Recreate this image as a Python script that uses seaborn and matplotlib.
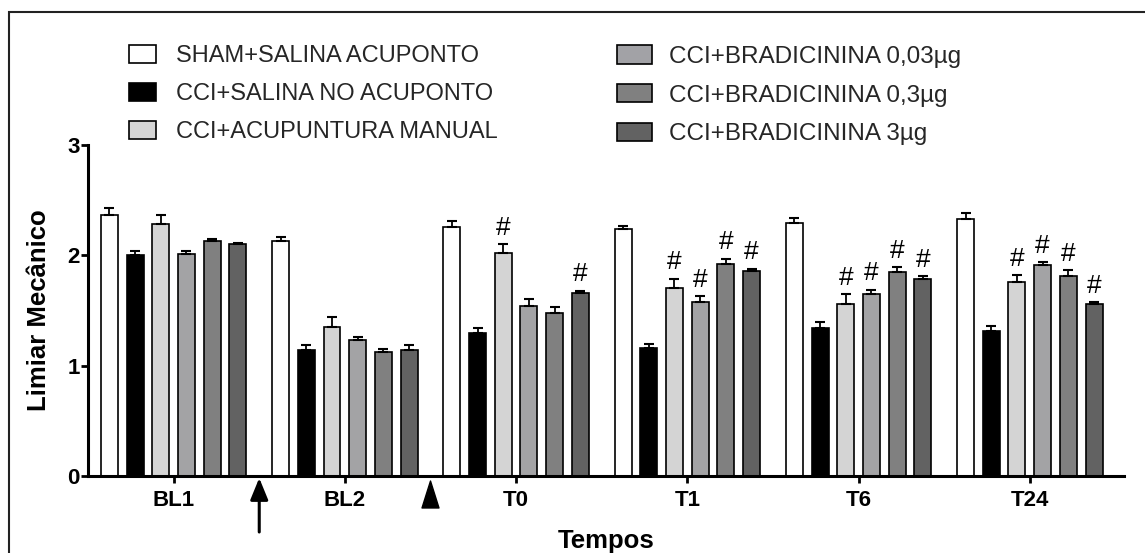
import numpy as np
import pandas as pd
import matplotlib
matplotlib.use("Agg")
import matplotlib.pyplot as plt
from matplotlib.patches import Patch, Rectangle
from matplotlib.path import Path
from matplotlib.transforms import blended_transform_factory, IdentityTransform
import seaborn as sns

# ---- data -------------------------------------------------------------
tempos = ["BL1", "BL2", "T0", "T1", "T6", "T24"]
grupos = [
    "SHAM+SALINA ACUPONTO",
    "CCI+SALINA NO ACUPONTO",
    "CCI+ACUPUNTURA MANUAL",
    "CCI+BRADICININA 0,03µg",
    "CCI+BRADICININA 0,3µg",
    "CCI+BRADICININA 3µg",
]
sham_mean = [2.37, 2.13, 2.26, 2.24, 2.29, 2.33]
sal_mean = [2.00, 1.14, 1.30, 1.16, 1.34, 1.31]
acup_mean = [2.28, 1.35, 2.02, 1.70, 1.56, 1.76]
bk003_mean = [2.01, 1.23, 1.54, 1.58, 1.65, 1.91]
bk03_mean = [2.13, 1.12, 1.48, 1.92, 1.85, 1.81]
bk3_mean = [2.10, 1.14, 1.66, 1.86, 1.79, 1.56]

sham_sem = [0.06, 0.04, 0.05, 0.03, 0.05, 0.05]
sal_sem = [0.04, 0.05, 0.04, 0.04, 0.06, 0.05]
acup_sem = [0.09, 0.09, 0.08, 0.09, 0.09, 0.06]
bk003_sem = [0.03, 0.03, 0.06, 0.05, 0.04, 0.03]
bk03_sem = [0.02, 0.03, 0.05, 0.05, 0.04, 0.06]
bk3_sem = [0.01, 0.05, 0.02, 0.02, 0.02, 0.02]

# '#' = significant vs CCI+SALINA NO ACUPONTO
sham_sig = [0, 0, 0, 0, 0, 0]
sal_sig = [0, 0, 0, 0, 0, 0]
acup_sig = [0, 0, 1, 1, 1, 1]
bk003_sig = [0, 0, 0, 1, 1, 1]
bk03_sig = [0, 0, 0, 1, 1, 1]
bk3_sig = [0, 0, 1, 1, 1, 1]

means = [sham_mean, sal_mean, acup_mean, bk003_mean, bk03_mean, bk3_mean]
sems = [sham_sem, sal_sem, acup_sem, bk003_sem, bk03_sem, bk3_sem]
sigs = [sham_sig, sal_sig, acup_sig, bk003_sig, bk03_sig, bk3_sig]
cores = ["#ffffff", "#000000", "#d4d4d4", "#a2a2a6", "#808080", "#626262"]

df = pd.DataFrame(
    [(t, g, m[i]) for g, m in zip(grupos, means) for i, t in enumerate(tempos)],
    columns=["Tempo", "Grupo", "Limiar"],
)

# ---- style ------------------------------------------------------------
sns.set_theme(style="ticks")
plt.rcParams["font.family"] = ["Liberation Sans", "DejaVu Sans"]

fig = plt.figure(figsize=(11.45, 5.53), dpi=100)
ax = fig.add_axes([88 / 1145, 1 - 476 / 553, 1036 / 1145, 331 / 553])

sns.barplot(
    data=df, x="Tempo", y="Limiar", hue="Grupo", order=tempos, hue_order=grupos,
    palette=cores, width=0.9, gap=0.34, edgecolor="black", linewidth=1.2,
    errorbar=None, legend=False, ax=ax,
)

# upper-only SEM bars and significance marks
for cont, sem, sig in zip(ax.containers, sems, sigs):
    xs = np.array([b.get_x() + b.get_width() / 2 for b in cont])
    hs = np.array([b.get_height() for b in cont])
    ax.errorbar(xs, hs, yerr=[np.zeros_like(hs), np.array(sem)], fmt="none",
                ecolor="black", elinewidth=1.3, capsize=3.8, capthick=1.5, zorder=3)
    for x, h, s, flag in zip(xs, hs, sem, sig):
        if flag:
            ax.annotate("#", (x, h + s), xytext=(0, 3), textcoords="offset points",
                        ha="center", va="bottom", fontsize=19, color="black")

ax.set_ylim(0, 3)
ax.set_xlim(-0.5, 5.55)
ax.set_yticks([0, 1, 2, 3])
ax.set_yticklabels(["0", "1", "2", "3"])
for side in ("top", "right"):
    ax.spines[side].set_visible(False)
for side in ("left", "bottom"):
    ax.spines[side].set_linewidth(2.2)
    ax.spines[side].set_color("black")
ax.tick_params(axis="y", length=5, width=2, pad=1, labelsize=16, colors="black")
ax.tick_params(axis="x", length=5, width=2, pad=5, labelsize=16, colors="black")
for lab in ax.get_xticklabels() + ax.get_yticklabels():
    lab.set_fontweight("bold")

ax.set_ylabel("Limiar Mecânico", fontsize=18.5, fontweight="bold", color="black")
ax.yaxis.label.set_va("center")
ax.yaxis.set_label_coords(-0.0475, 0.5)
ax.set_xlabel("Tempos", fontsize=18.5, fontweight="bold", color="black")
ax.xaxis.set_label_coords(0.5, -0.16)

# treatment markers under the axis (figure-pixel y)
tr = blended_transform_factory(ax.transData, IdentityTransform())
ax.annotate("", xy=(0.5, 553 - 478), xycoords=tr, xytext=(0.5, 553 - 532), textcoords=tr,
            arrowprops=dict(arrowstyle="-|>,head_length=1.1,head_width=0.45",
                            color="black", lw=2.2, shrinkA=0, shrinkB=0),
            annotation_clip=False)
tri = Path([(0, 1), (-0.63, -1), (0.63, -1), (0, 1)],
           [Path.MOVETO, Path.LINETO, Path.LINETO, Path.CLOSEPOLY])
ax.plot([1.5], [553 - 493.5], marker=tri, markersize=19.4, color="black",
        transform=tr, clip_on=False)

# legend in two columns
handles = [Patch(facecolor=c, edgecolor="black", linewidth=1.2) for c in cores]
leg_kw = dict(frameon=False, borderpad=0, borderaxespad=0,
              labelspacing=0.66, handleheight=0.8, loc="upper left")
leg1 = fig.legend(handles[:3], grupos[:3], bbox_to_anchor=(129 / 1145, 1 - 45 / 553),
                  fontsize=17, handlelength=1.15, handletextpad=0.85, **leg_kw)
leg2 = fig.legend(handles[3:], grupos[3:], bbox_to_anchor=(617 / 1145, 1 - 45 / 553),
                  fontsize=17.5, handlelength=1.44, handletextpad=0.7, **leg_kw)

# outer frame
fig.patches.append(Rectangle((9 / 1145, -0.2), 1.5, 0.2 + 1 - 12 / 553,
                             transform=fig.transFigure, fill=False,
                             edgecolor="#222222", linewidth=1.5))

fig.savefig("out.png", dpi=100)
